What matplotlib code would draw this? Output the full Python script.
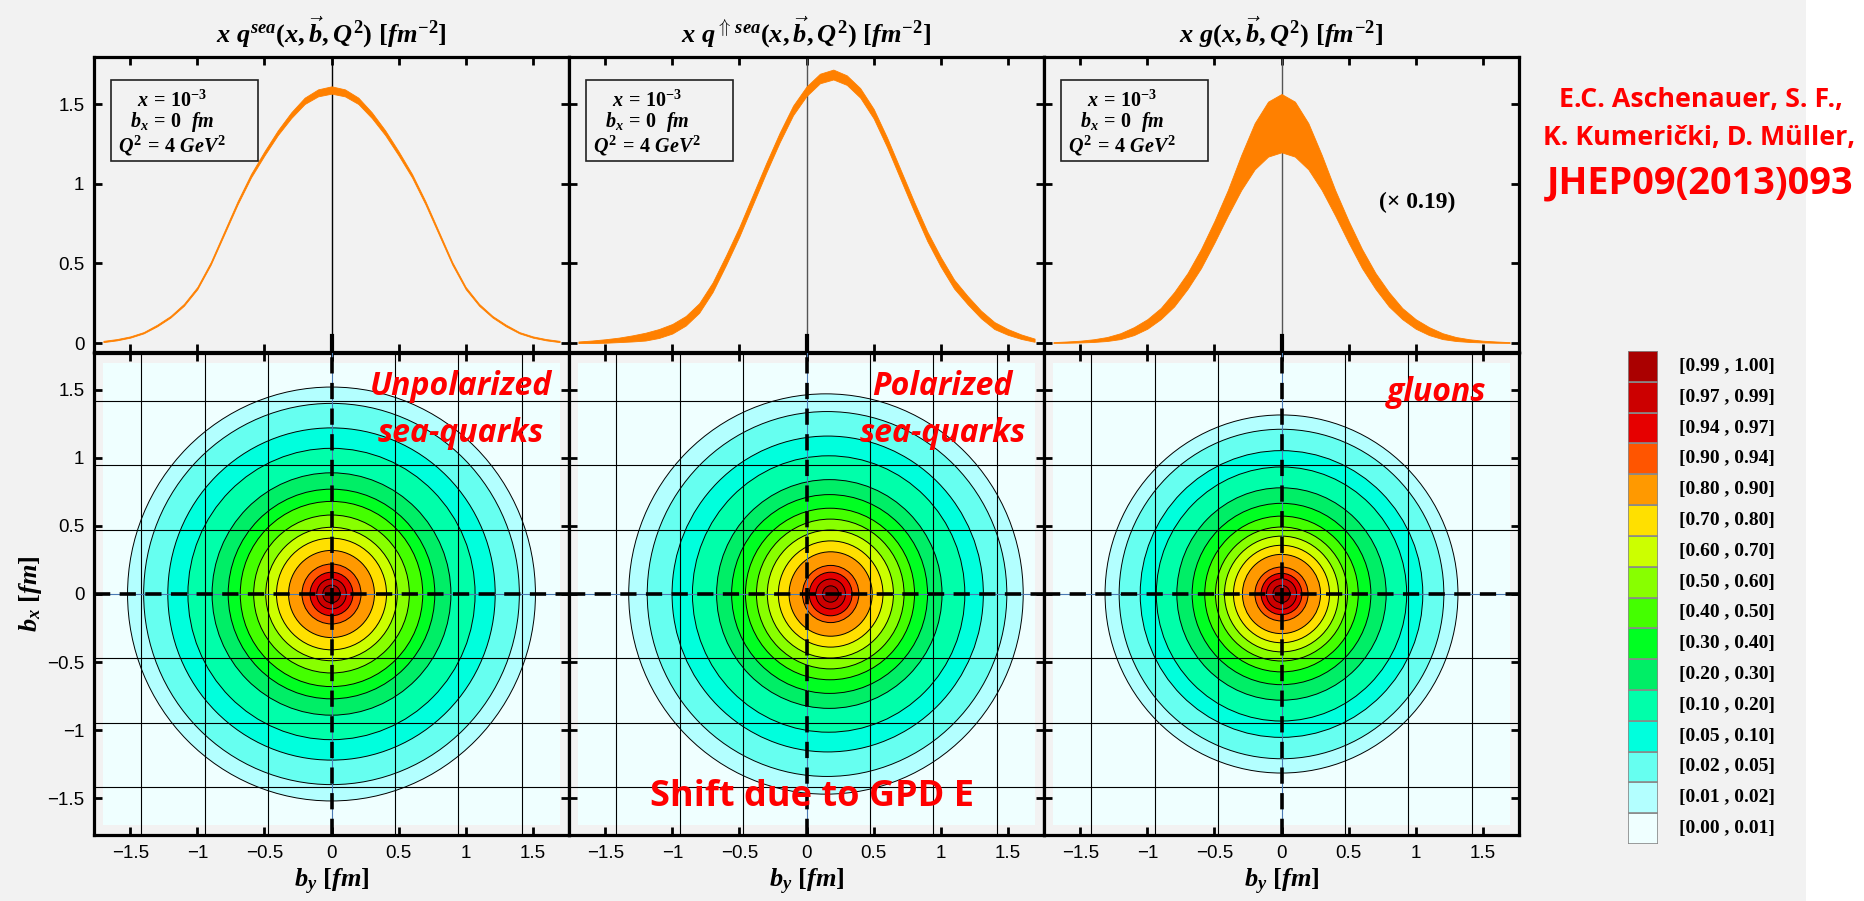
import numpy as np
import matplotlib.pyplot as plt
from matplotlib.patches import Ellipse, Rectangle

plt.rcParams['font.family'] = ['Liberation Sans', 'DejaVu Sans']
plt.rcParams['mathtext.fontset'] = 'custom'
plt.rcParams['mathtext.it'] = 'Liberation Serif:italic:bold'
plt.rcParams['mathtext.rm'] = 'Liberation Serif:bold'
plt.rcParams['mathtext.bf'] = 'Liberation Serif:bold'
plt.rcParams['mathtext.sf'] = 'Liberation Serif:bold'

# ---- top row: b_y slices at b_x = 0 (error bands) ----
b_y = [-1.7, -1.6, -1.5, -1.4, -1.3, -1.2, -1.1, -1.0, -0.9, -0.8, -0.7, -0.6,
       -0.5, -0.4, -0.3, -0.2, -0.1, 0.0, 0.1, 0.2, 0.3, 0.4, 0.5, 0.6,
       0.7, 0.8, 0.9, 1.0, 1.1, 1.2, 1.3, 1.4, 1.5, 1.6, 1.7]

sea_upper = [0.014, 0.025, 0.042, 0.069, 0.115, 0.170, 0.246, 0.352, 0.508, 0.699, 0.890, 1.061,
             1.203, 1.335, 1.448, 1.540, 1.592, 1.611, 1.592, 1.540, 1.448, 1.335, 1.203, 1.061,
             0.890, 0.699, 0.508, 0.352, 0.246, 0.170, 0.115, 0.069, 0.042, 0.025, 0.014]
sea_lower = [0.006, 0.017, 0.034, 0.061, 0.105, 0.160, 0.234, 0.338, 0.492, 0.681, 0.870, 1.039,
             1.177, 1.305, 1.412, 1.500, 1.548, 1.565, 1.548, 1.500, 1.412, 1.305, 1.177, 1.039,
             0.870, 0.681, 0.492, 0.338, 0.234, 0.160, 0.105, 0.061, 0.034, 0.017, 0.006]

pol_upper = [0.010, 0.016, 0.024, 0.034, 0.048, 0.065, 0.088, 0.120, 0.170, 0.250, 0.380, 0.550,
             0.730, 0.930, 1.130, 1.320, 1.490, 1.610, 1.690, 1.716, 1.680, 1.600, 1.470, 1.290,
             1.090, 0.890, 0.700, 0.540, 0.398, 0.296, 0.204, 0.132, 0.088, 0.054, 0.028]
pol_lower = [0.000, 0.000, 0.002, 0.006, 0.010, 0.016, 0.032, 0.060, 0.110, 0.190, 0.320, 0.490,
             0.670, 0.870, 1.070, 1.260, 1.430, 1.550, 1.630, 1.654, 1.620, 1.540, 1.410, 1.230,
             1.030, 0.830, 0.640, 0.480, 0.342, 0.244, 0.156, 0.088, 0.052, 0.026, 0.008]

glu_upper = [0.006, 0.010, 0.015, 0.024, 0.038, 0.062, 0.100, 0.150, 0.220, 0.320, 0.440, 0.590,
             0.766, 0.960, 1.180, 1.380, 1.515, 1.563, 1.515, 1.380, 1.180, 0.960, 0.766, 0.590,
             0.440, 0.320, 0.220, 0.150, 0.100, 0.062, 0.038, 0.024, 0.015, 0.010, 0.006]
glu_lower = [0.001, 0.002, 0.004, 0.007, 0.013, 0.025, 0.050, 0.090, 0.150, 0.230, 0.340, 0.470,
             0.630, 0.800, 0.960, 1.090, 1.170, 1.197, 1.170, 1.090, 0.960, 0.800, 0.630, 0.470,
             0.340, 0.230, 0.150, 0.090, 0.050, 0.025, 0.013, 0.007, 0.004, 0.002, 0.001]

# ---- bottom row: contour levels (normalised) and radii of each level [fm] ----
levels = [0.01, 0.02, 0.05, 0.10, 0.20, 0.30, 0.40, 0.50, 0.60, 0.70, 0.80, 0.90, 0.94, 0.97, 0.99]
sea_radius = [1.52, 1.40, 1.22, 1.07, 0.89, 0.77, 0.68, 0.58, 0.49, 0.41, 0.32, 0.22, 0.16, 0.11, 0.065]
sea_center = [0.0] * 15
pol_radius = [1.47, 1.34, 1.16, 1.015, 0.84, 0.73, 0.63, 0.55, 0.47, 0.39, 0.31, 0.21, 0.16, 0.11, 0.06]
pol_center = [0.145, 0.153, 0.158, 0.165, 0.170, 0.172, 0.175, 0.177, 0.178, 0.180, 0.180, 0.180, 0.180, 0.180, 0.180]
glu_radius = [1.315, 1.21, 1.053, 0.933, 0.78, 0.666, 0.572, 0.492, 0.425, 0.358, 0.291, 0.198, 0.152, 0.112, 0.064]
glu_center = [0.0] * 15

band_colors = ['#efffff', '#b3ffff', '#66fff0', '#00ffdd', '#00ffaa', '#00ee66', '#00ff22', '#44ff00',
               '#88ff00', '#ccff00', '#ffe000', '#ff9900', '#ff5500', '#e60000', '#cc0000', '#aa0000']
band_labels = ['[0.00 , 0.01]', '[0.01 , 0.02]', '[0.02 , 0.05]', '[0.05 , 0.10]', '[0.10 , 0.20]',
               '[0.20 , 0.30]', '[0.30 , 0.40]', '[0.40 , 0.50]', '[0.50 , 0.60]', '[0.60 , 0.70]',
               '[0.70 , 0.80]', '[0.80 , 0.90]', '[0.90 , 0.94]', '[0.94 , 0.97]', '[0.97 , 0.99]',
               '[0.99 , 1.00]']

titles = [r'$x\ q^{sea}(x,\vec{b},Q^2)\ [fm^{-2}]$',
          r'$x\ q^{\Uparrow\,sea}(x,\vec{b},Q^2)\ [fm^{-2}]$',
          r'$x\ g(x,\vec{b},Q^2)\ [fm^{-2}]$']
panel_names = [['Unpolarized', 'sea-quarks'], ['Polarized', 'sea-quarks'], ['gluons']]
name_xpos = [0.773, 0.786, 0.827]

tick_vals = [-1.5, -1, -0.5, 0, 0.5, 1, 1.5]
tick_text = ['\u22121.5', '\u22121', '\u22120.5', '0', '0.5', '1', '1.5']
grid_pos = [-1.4175, -0.945, -0.4725, 0.4725, 0.945, 1.4175]

W, H = 1864, 901
BG = '#f2f2f2'
ORANGE = '#ff8000'
RED_FONT = ['Liberation Sans Narrow', 'Open Sans', 'DejaVu Sans']

fig = plt.figure(figsize=(W / 100, H / 100), dpi=100, facecolor=BG)
fig.patches.append(Rectangle((1806 / W, 0), 1, 1, transform=fig.transFigure,
                             facecolor='white', edgecolor='none'))


def style(ax):
    ax.set_facecolor(BG)
    for s in ax.spines.values():
        s.set_linewidth(2.3)
    ax.tick_params(direction='in', length=6, width=2, top=True, right=True,
                   labelsize=13.5, pad=7)
    ax.set_xlim(-1.77, 1.77)
    ax.set_xticks(tick_vals)


lefts = [94, 569, 1044]
bands = [(sea_lower, sea_upper), (pol_lower, pol_upper), (glu_lower, glu_upper)]
contours = [(sea_radius, sea_center), (pol_radius, pol_center), (glu_radius, glu_center)]

for i in range(3):
    x0 = lefts[i] / W
    # top panel
    axt = fig.add_axes([x0, 1 - 352 / H, 475 / W, 295 / H])
    style(axt)
    axt.set_ylim(-0.056, 1.795)
    axt.set_yticks([0, 0.5, 1, 1.5])
    axt.set_xticklabels([])
    if i == 0:
        axt.set_yticklabels(['0', '0.5', '1', '1.5'])
    else:
        axt.set_yticklabels([])
    lo, up = bands[i]
    axt.fill_between(b_y, lo, up, color=ORANGE, lw=0.6, edgecolor=ORANGE, zorder=3)
    axt.axvline(0, color='black' if i == 0 else '#555555', lw=1.0, zorder=2)
    axt.axvline(0, ymin=0, ymax=0.055, color='black', lw=3, zorder=4)
    axt.add_patch(Rectangle((0.036, 0.647), 0.309, 0.275, transform=axt.transAxes,
                            facecolor='none', edgecolor='#222222', lw=1.2, zorder=5))
    bx = 0.165
    axt.text(bx, 0.853, r'$x\,=\,10^{-3}$', transform=axt.transAxes, ha='center', va='center', fontsize=14.5)
    axt.text(bx, 0.778, r'$b_x\,=\,0\ \ fm$', transform=axt.transAxes, ha='center', va='center', fontsize=14.5)
    axt.text(bx, 0.700, r'$Q^2\,=\,4\ GeV^2$', transform=axt.transAxes, ha='center', va='center', fontsize=14.5)
    if i == 2:
        axt.text(0.785, 0.507, '(\u00d7 0.19)', transform=axt.transAxes, ha='center', va='center',
                 fontsize=17, weight='bold', family='Liberation Serif')
    fig.text(x0 + 237.5 / W, 1 - 32 / H, titles[i], ha='center', va='center', fontsize=19)

    # bottom panel
    axb = fig.add_axes([x0, 1 - 835 / H, 475 / W, 482 / H])
    style(axb)
    axb.set_ylim(-1.77, 1.77)
    axb.set_yticks(tick_vals)
    axb.set_xticklabels(tick_text)
    if i == 0:
        axb.set_yticklabels(tick_text)
        axb.set_ylabel(r'$b_x\ [fm]$', fontsize=19, labelpad=2)
    else:
        axb.set_yticklabels([])
    axb.set_xlabel(r'$b_y\ [fm]$', fontsize=19, labelpad=4)

    axb.add_patch(Rectangle((-1.7, -1.7), 3.4, 3.4, facecolor=band_colors[0], edgecolor='none', zorder=1))
    radius, center = contours[i]
    for r, c, col in zip(radius, center, band_colors[1:]):
        axb.add_patch(Ellipse((c, 0), 2 * r, 2 * r, facecolor=col, edgecolor='black', lw=0.7, zorder=2))
    for g in grid_pos:
        axb.axvline(g, color='black', lw=0.8, zorder=3)
        axb.axhline(g, color='black', lw=0.8, zorder=3)
    axb.axvline(0, color='#4a7ab5', lw=0.8, zorder=4)
    axb.axhline(0, color='#4a7ab5', lw=0.8, zorder=4)
    axb.axvline(0, color='black', lw=2.6, dashes=(4.5, 2.6), zorder=5)
    axb.axhline(0, color='black', lw=2.6, dashes=(4.5, 2.6), zorder=5)

    names = panel_names[i]
    ys = [0.93, 0.834] if len(names) == 2 else [0.919]
    for nm, yy in zip(names, ys):
        axb.text(name_xpos[i], yy, nm, transform=axb.transAxes, ha='center', va='center',
                 fontsize=23, weight='bold', style='italic', color='red', family=RED_FONT)

fig.text(812 / W, 1 - 797 / H, 'Shift due to GPD E', ha='center', va='center', fontsize=26,
         weight='bold', color='red', family=RED_FONT)

# reference text
fig.text(1701 / W, 1 - 100 / H, 'E.C. Aschenauer, S. F.,', ha='center', va='center', fontsize=19.3,
         weight='bold', color='red', family=RED_FONT)
fig.text(1699 / W, 1 - 138 / H, 'K. Kumeri\u010dki, D. M\u00fcller,', ha='center', va='center', fontsize=19.3,
         weight='bold', color='red', family=RED_FONT)
fig.text(1700 / W, 1 - 183 / H, 'JHEP09(2013)093', ha='center', va='center', fontsize=27.3,
         weight='bold', color='red', family=RED_FONT)

# colour key
axk = fig.add_axes([1628 / W, 1 - 844 / H, 30 / W, 493 / H])
for k, col in enumerate(band_colors):
    axk.bar(0, 1, bottom=k, width=1, color=col, edgecolor='#8a8a8a', lw=1.2)
axk.set_xlim(-0.5, 0.5)
axk.set_ylim(0, len(band_colors))
axk.axis('off')
for k, lab in enumerate(band_labels):
    yk = 844 - (k + 0.5) * 493 / 16
    fig.text(1679 / W, 1 - yk / H, lab, ha='left', va='center', fontsize=14, weight='bold',
             family='Liberation Serif')

fig.savefig('out.png', dpi=100, facecolor=fig.get_facecolor())
